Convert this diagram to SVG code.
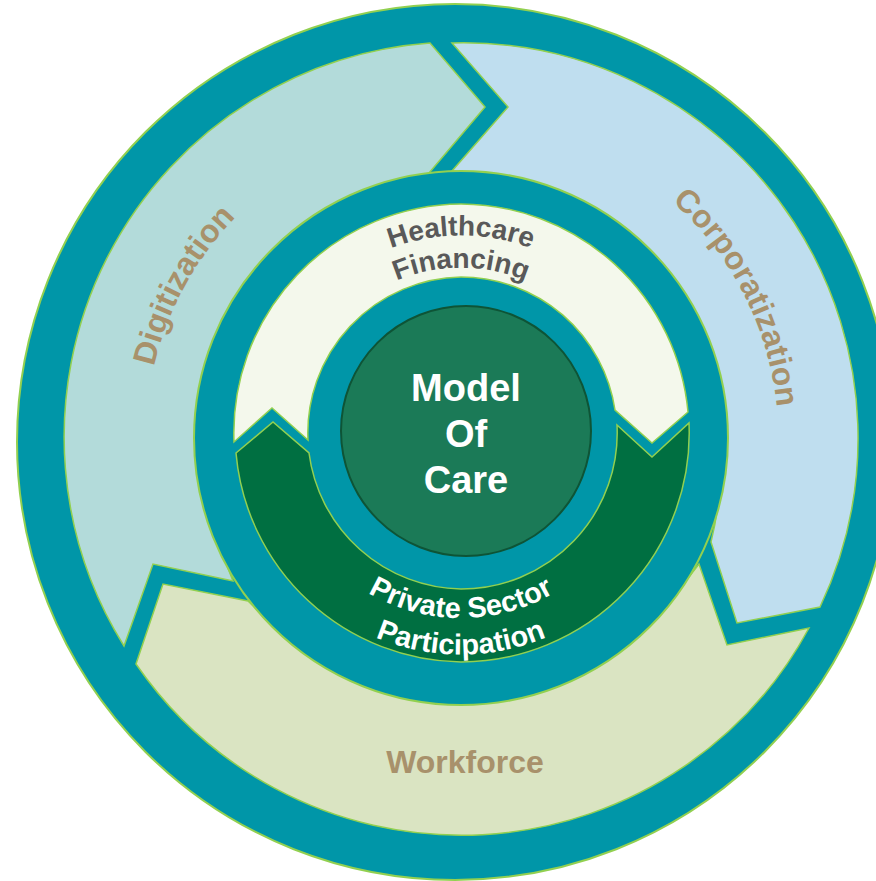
<svg xmlns="http://www.w3.org/2000/svg" width="876" height="881" viewBox="0 0 876 881">
<style>
.teal{fill:#0096A8;stroke:#92D050;stroke-width:2}
.arrow{stroke:#92D050;stroke-width:1.5;stroke-linejoin:miter}
.lbl{font-family:"Liberation Sans",Arial,sans-serif;font-weight:bold}
.outer{font-size:32px;fill:#A8916B}
.hf{font-size:28px;fill:#595959}
.psp{font-size:29px;fill:#FFFFFF}
.moc{font-size:38px;fill:#FFFFFF}
</style>
<defs>
<path id="p-dig" d="M286.7,700.9 A316,316 0 0 1 589.0,148.6"/>
<path id="p-corp" d="M343.6,145.0 A316,316 0 0 1 629.5,706.0"/>
<path id="p-hf1" d="M264.7,415.8 A197,197 0 0 1 657.3,415.8"/>
<path id="p-hf2" d="M296.6,418.6 A165,165 0 0 1 625.4,418.6"/>
<path id="p-psp1" d="M276.7,449.1 A185,185 0 0 0 645.3,449.1"/>
<path id="p-psp2" d="M240.8,452.3 A221,221 0 0 0 681.2,452.3"/>
</defs>
<g id="outer-ring">
<circle class="teal" cx="455" cy="442" r="438"/>
</g>
<g id="digitization">
<path class="arrow" fill="#B3DBDA" d="M124,646 A395,395 0 0 1 430,43 L485,107 L429,173 A300,300 0 0 0 233,581 L153,564 Z"/>
<text class="lbl outer"><textPath href="#p-dig" startOffset="50%" text-anchor="middle">Digitization</textPath></text>
</g>
<g id="corporatization">
<path class="arrow" fill="#BFDEEF" d="M452,43 A395,395 0 0 1 820,607 L737,623 L711,542 A300,300 0 0 0 452,171 L508,107 Z"/>
<text class="lbl outer"><textPath href="#p-corp" startOffset="50%" text-anchor="middle">Corporatization</textPath></text>
</g>
<g id="workforce">
<path class="arrow" fill="#DAE4C2" d="M809,628 A395,395 0 0 1 136,664 L163,584 L248,601 A300,300 0 0 0 699,564 L727,645 Z"/>
<text class="lbl outer" x="465" y="773" text-anchor="middle">Workforce</text>
</g>
<g id="inner-ring">
<circle class="teal" cx="461" cy="438" r="267" stroke-width="1.5"/>
</g>
<g id="healthcare-financing">
<path class="arrow" stroke-width="1.2" fill="#F4F8EC" d="M234,442 A229,229 0 0 1 461,204 A229,229 0 0 1 688,412 L652,443 L615,410 A156,156 0 0 0 461,277 A156,156 0 0 0 308,440 L272,408 Z"/>
<text class="lbl hf"><textPath href="#p-hf1" startOffset="50%" text-anchor="middle">Healthcare</textPath></text>
<text class="lbl hf"><textPath href="#p-hf2" startOffset="50%" text-anchor="middle">Financing</textPath></text>
</g>
<g id="private-sector-participation">
<path class="arrow" stroke-width="1.2" fill="#006F41" d="M689,423 A229,229 0 0 1 461,662 A229,229 0 0 1 236,453 L273,422 L309,453 A156,156 0 0 0 461,589 A156,156 0 0 0 617,425 L652,457 Z"/>
<text class="lbl psp"><textPath href="#p-psp1" startOffset="50%" text-anchor="middle">Private Sector</textPath></text>
<text class="lbl psp"><textPath href="#p-psp2" startOffset="50%" text-anchor="middle">Participation</textPath></text>
</g>
<g id="model-of-care">
<circle cx="466" cy="431" r="125" fill="#1B7A57" stroke="#0E5436" stroke-width="2"/>
<text class="lbl moc" x="466" y="401" text-anchor="middle">Model</text>
<text class="lbl moc" x="466" y="447" text-anchor="middle">Of</text>
<text class="lbl moc" x="466" y="493" text-anchor="middle">Care</text>
</g>
<g id="connectors"/>
</svg>
